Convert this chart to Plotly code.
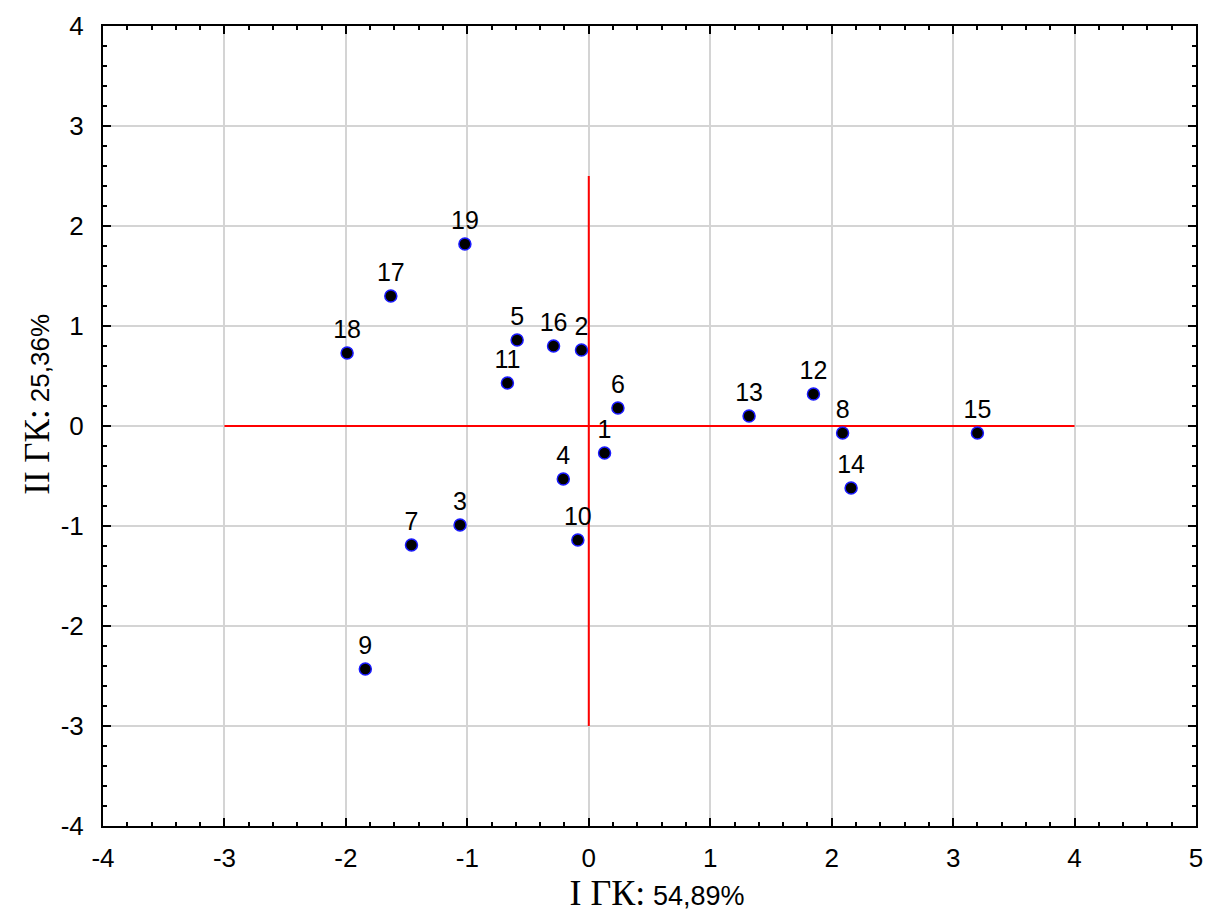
import plotly.graph_objects as go

labels = [str(i) for i in range(1, 20)]
pc1 = [0.13, -0.06, -1.06, -0.21, -0.59, 0.24, -1.46, 2.09, -1.84, -0.09,
       -0.67, 1.85, 1.32, 2.16, 3.20, -0.29, -1.63, -1.99, -1.02]
pc2 = [-0.27, 0.76, -0.99, -0.53, 0.86, 0.18, -1.19, -0.07, -2.43, -1.14,
       0.43, 0.32, 0.10, -0.62, -0.07, 0.80, 1.30, 0.73, 1.82]

hline_x = [-3, 4]
hline_y = [0, 0]
vline_x = [0, 0]
vline_y = [-3, 2.5]

tick_vals_x = list(range(-4, 6))
tick_text_x = [str(v) for v in tick_vals_x]
tick_vals_y = list(range(-4, 5))
tick_text_y = [str(v) for v in tick_vals_y]

fig = go.Figure()
fig.add_trace(go.Scatter(x=hline_x, y=hline_y, mode="lines",
                         line=dict(color="#ff0000", width=2), hoverinfo="skip"))
fig.add_trace(go.Scatter(x=vline_x, y=vline_y, mode="lines",
                         line=dict(color="#ff0000", width=2), hoverinfo="skip"))
fig.add_trace(go.Scatter(
    x=pc1, y=pc2, mode="markers+text", text=labels, textposition="top center",
    textfont=dict(family="Liberation Sans, Arial", size=25, color="black"),
    marker=dict(size=12, color="black", line=dict(color="#1a1aff", width=1.5)),
))

axis_common = dict(
    showgrid=True, gridcolor="#d4d4d4", gridwidth=2,
    zeroline=False, showline=True, linecolor="black", linewidth=2, mirror="allticks",
    ticks="inside", ticklen=8, tickwidth=2, tickcolor="black",
    minor=dict(dtick=0.2, ticks="inside", ticklen=4, tickwidth=1.5, tickcolor="black", showgrid=False),
    tickfont=dict(family="Liberation Sans, Arial", size=26, color="black"),
    automargin=False, ticklabeloverflow="allow",
)

fig.update_xaxes(range=[-4, 5], tickvals=tick_vals_x, ticktext=tick_text_x, ticklabelstandoff=8,
                 title=dict(text="&nbsp;&nbsp;<span style='font-family:Liberation Serif;font-size:36px'>I ГК:</span> 54,89%",
                            font=dict(family="Liberation Sans, Arial", size=27, color="black"), standoff=6),
                 **axis_common)
fig.update_yaxes(range=[-4, 4], tickvals=tick_vals_y, ticktext=tick_text_y, ticklabelstandoff=12,
                 title=dict(text="&nbsp;&nbsp;&nbsp;&nbsp;&nbsp;&nbsp;<span style='font-family:Liberation Serif;font-size:35px'>II ГК:</span> 25,36%",
                            font=dict(family="Liberation Sans, Arial", size=26, color="black"), standoff=4),
                 **axis_common)

fig.update_layout(
    width=1205, height=920, showlegend=False,
    plot_bgcolor="white", paper_bgcolor="white",
    margin=dict(l=103, r=9, t=26, b=94),
)
fig.write_html("out.html", config={"displayModeBar": False},
               post_script="document.body.style.margin='0';document.body.style.overflow='hidden';")
